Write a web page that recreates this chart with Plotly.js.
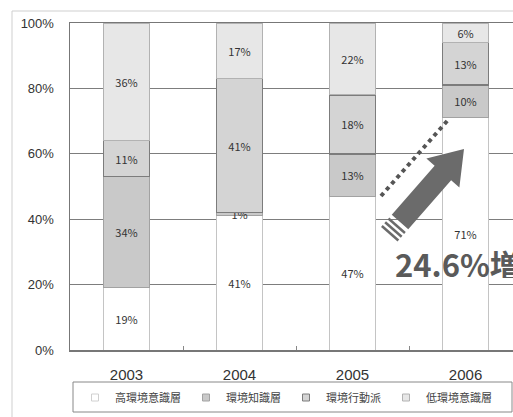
<!DOCTYPE html>
<html>
<head>
<meta charset="utf-8">
<script src="https://cdn.plot.ly/plotly-3.0.1.min.js"></script>
<style>
html,body{margin:0;padding:0;background:#fff;overflow:hidden;}
#chart{width:513px;height:417px;}
</style>
</head>
<body>
<div id="chart"></div>
<script>
// ---- data ----
const years = ['2003', '2004', '2005', '2006'];
const seriesNames = ['高環境意識層', '環境知識層', '環境行動派', '低環境意識層'];
const highAwareness = [19, 41, 47, 71];
const knowledgeGroup = [34, 1, 13, 10];
const actionGroup = [11, 41, 18, 13];
const lowAwareness = [36, 17, 22, 6];
const yTicks = [0, 20, 40, 60, 80, 100];
const calloutText = '24.6%増加';

// ---- styles ----
const fills = ['#ffffff', '#c9c9c9', '#d4d4d4', '#e7e7e7'];
const borders = ['#c4c4c4', '#a2a2a2', '#7c7c7c', '#b2b2b2'];
const borderWidths = [1, 1, 1.5, 1];
const series = [highAwareness, knowledgeGroup, actionGroup, lowAwareness];

const W = 513, H = 417;
const M = {l: 70, r: 0, t: 23, b: 67};
const PW = W - M.l - M.r, PH = H - M.t - M.b;
const px = x => (x - M.l) / PW;
const py = y => (H - M.b - y) / PH;

const labelFont = {family: 'Noto Sans CJK JP, sans-serif', size: 11, color: '#333'};

const traces = series.map((vals, i) => ({
  type: 'bar',
  name: seriesNames[i],
  x: years,
  y: vals,
  text: vals.map(v => v + '%'),
  textposition: 'inside',
  insidetextanchor: 'middle',
  textangle: 0,
  constraintext: 'none',
  textfont: labelFont,
  insidetextfont: labelFont,
  marker: {color: fills[i], line: {color: borders[i], width: borderWidths[i]}},
  showlegend: false,
  hoverinfo: 'skip'
}));

// legend entries (small square swatches)
seriesNames.forEach((nm, i) => {
  traces.push({
    type: 'scatter', mode: 'markers', name: nm,
    x: [null], y: [null],
    marker: {symbol: 'square', size: 7, color: fills[i],
             line: {color: i === 0 ? '#d0d0d0' : borders[i], width: 1}},
    showlegend: true, hoverinfo: 'skip'
  });
});

// arrow geometry (decoration)
const ux = 0.66, uy = -0.75, nx = 0.75, ny = 0.66;
const T = [464, 149], C0 = [400, 222];
const headLen = 32, headHW = 22, shaftHW = 11;
const B = [T[0] - headLen * ux, T[1] - headLen * uy];
const P = (c, s) => [c[0] + s * nx, c[1] + s * ny];
const pts = [P(C0, shaftHW), P(B, shaftHW), P(B, headHW), T, P(B, -headHW), P(B, -shaftHW), P(C0, -shaftHW)];
const arrowPath = 'M' + pts.map(p => px(p[0]).toFixed(5) + ',' + py(p[1]).toFixed(5)).join('L') + 'Z';

const shapes = [
  // outer frame
  {type: 'rect', xref: 'paper', yref: 'paper', x0: px(12), x1: px(560), y0: py(470), y1: py(11),
   line: {color: '#cfcfcf', width: 1}, fillcolor: 'rgba(0,0,0,0)', layer: 'below'},
  // legend frame
  {type: 'rect', xref: 'paper', yref: 'paper', x0: px(73), x1: px(512), y0: py(412), y1: py(382),
   line: {color: '#888', width: 1}, fillcolor: 'rgba(0,0,0,0)'},
  // dotted line
  {type: 'line', xref: 'paper', yref: 'paper', x0: px(381), y0: py(196), x1: px(448), y1: py(120),
   line: {color: '#555', width: 4, dash: 'dot'}},
  // arrow
  {type: 'path', xref: 'paper', yref: 'paper', path: arrowPath,
   fillcolor: '#6b6b6b', line: {width: 0}}
];
[5, 10, 15].forEach(k => {
  const c = [C0[0] - k * ux, C0[1] - k * uy];
  const a = P(c, shaftHW), b = P(c, -shaftHW);
  shapes.push({type: 'line', xref: 'paper', yref: 'paper',
    x0: px(a[0]), y0: py(a[1]), x1: px(b[0]), y1: py(b[1]),
    line: {color: '#6b6b6b', width: 2.5}});
});

const layout = {
  width: W, height: H,
  margin: M,
  paper_bgcolor: '#ffffff', plot_bgcolor: '#ffffff',
  barmode: 'stack',
  bargap: 0.59,
  showlegend: true,
  xaxis: {
    type: 'category', range: [-0.5, 3.42],
    showline: true, linecolor: '#777', linewidth: 1.5, mirror: true,
    ticks: 'inside', tickson: 'boundaries', ticklen: 4, tickcolor: '#888',
    ticklabelstandoff: 10,
    tickfont: {family: 'Liberation Sans, Arial, sans-serif', size: 15, color: '#333'},
    showgrid: false, zeroline: false, fixedrange: true
  },
  yaxis: {
    range: [0, 100], tickvals: yTicks, ticktext: yTicks.map(v => v + '%'),
    showgrid: true, gridcolor: '#7d7d7d', gridwidth: 1.3,
    showline: true, linecolor: '#777', linewidth: 1.5,
    zeroline: false, ticks: '', ticklabelstandoff: 12,
    tickfont: {family: 'Liberation Sans, Arial, sans-serif', size: 13, color: '#333'},
    fixedrange: true
  },
  legend: {
    orientation: 'h', x: px(75), y: py(383), xanchor: 'left', yanchor: 'top',
    borderwidth: 0, bgcolor: 'rgba(0,0,0,0)', traceorder: 'normal',
    font: {family: 'Noto Sans CJK JP, sans-serif', size: 11, color: '#444'}
  },
  annotations: [{
    xref: 'paper', yref: 'paper', x: px(393), y: py(263), xanchor: 'left', yanchor: 'middle',
    height: 30, valign: 'middle',
    text: calloutText, showarrow: false,
    font: {family: 'Noto Sans CJK JP, sans-serif', size: 31, color: '#5a5a5a', weight: 'bold'}
  }],
  shapes: shapes
};

Plotly.newPlot('chart', traces, layout, {displayModeBar: false, staticPlot: true});
</script>
</body>
</html>
